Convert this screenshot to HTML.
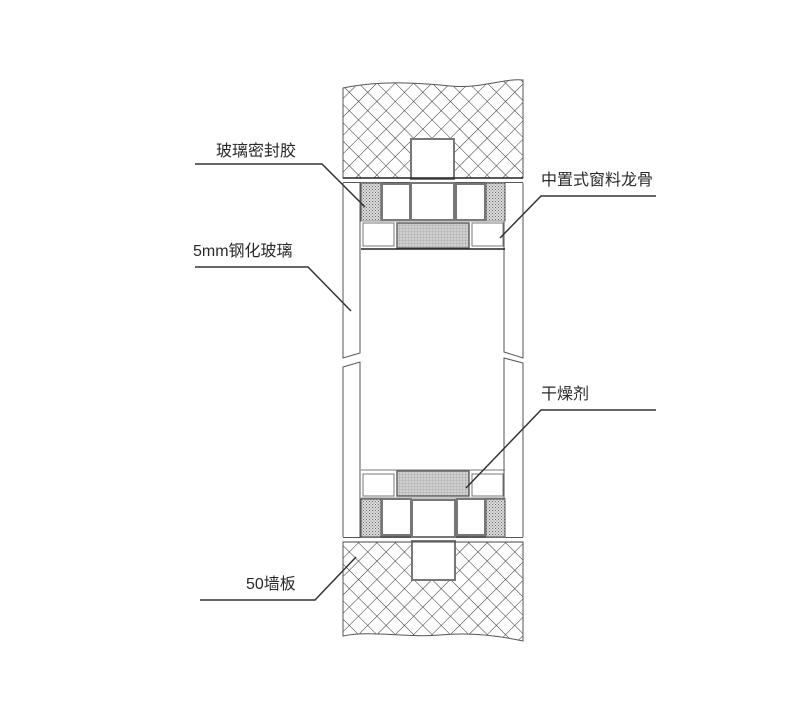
<!DOCTYPE html>
<html><head><meta charset="utf-8"><style>
html,body{margin:0;padding:0;background:#fff;}
svg{display:block}
text{font-family:"Liberation Sans","Noto Sans CJK SC",sans-serif;font-size:16px;fill:#2a2a2a;}
</style></head><body>
<svg width="806" height="713" viewBox="0 0 806 713" xmlns="http://www.w3.org/2000/svg">
<defs>
<pattern id="hatch" width="13" height="13" patternUnits="userSpaceOnUse" patternTransform="rotate(45)">
<rect width="13" height="13" fill="#fff"/>
<line x1="0" y1="0" x2="13" y2="0" stroke="#333" stroke-width="1"/>
<line x1="0" y1="0" x2="0" y2="13" stroke="#333" stroke-width="1"/>
</pattern>
<pattern id="dots" width="3" height="3" patternUnits="userSpaceOnUse">
<rect width="3" height="3" fill="#ddd"/>
<rect width="1" height="1" fill="#666"/>
<rect x="1.5" y="1.5" width="1" height="1" fill="#777"/>
</pattern>
<pattern id="grid" width="3" height="3" patternUnits="userSpaceOnUse">
<rect width="3" height="3" fill="#d0d0d0"/>
<line x1="0" y1="0" x2="3" y2="0" stroke="#999" stroke-width="0.6"/>
<line x1="0" y1="0" x2="0" y2="3" stroke="#999" stroke-width="0.6"/>
</pattern>
</defs>
<g stroke="#555" stroke-width="1" fill="none">
<path d="M343,88 C380,80 420,83 450,86 C480,89 505,78 523,80 L523,178 L343,178 Z" fill="url(#hatch)"/>
<rect x="411" y="139" width="43" height="40" fill="#fff" stroke="#777" stroke-width="2"/>
<path d="M343,542 L523,542 L523,641 C500,636 470,632 440,635 C405,638 370,630 343,636 Z" fill="url(#hatch)"/>
<rect x="412" y="541" width="43" height="39" fill="#fff" stroke="#777" stroke-width="2"/>
<line x1="343" y1="178" x2="523" y2="178" stroke="#222" stroke-width="1.5"/>
<line x1="343" y1="183" x2="523" y2="183" stroke="#222" stroke-width="1.5"/>
<line x1="343" y1="537" x2="523" y2="537" stroke="#222" stroke-width="1.5"/>
<line x1="343" y1="542" x2="523" y2="542" stroke="#444" stroke-width="1"/>
<path d="M343,183 L343,358 L360,353 L360,183" fill="#fff"/>
<path d="M343,537 L343,367 L360,362 L360,537" fill="#fff"/>
<path d="M523,183 L523,358 L504,352 L504,183" fill="#fff"/>
<path d="M523,537 L523,363 L504,358 L504,537" fill="#fff"/>
<rect x="361" y="183" width="20" height="38" fill="url(#dots)"/>
<rect x="486" y="183" width="19" height="38" fill="url(#dots)"/>
<rect x="382" y="184" width="28" height="36" fill="#fff" stroke="#777" stroke-width="2"/>
<rect x="456" y="184" width="29" height="36" fill="#fff" stroke="#777" stroke-width="2"/>
<rect x="411" y="183" width="43" height="37" fill="#fff" stroke="#777" stroke-width="2"/>
<line x1="361" y1="221" x2="505" y2="221" stroke="#888"/>
<rect x="363" y="223" width="31" height="23" fill="#fff" stroke="#777"/>
<rect x="397" y="223" width="72" height="25" fill="url(#grid)" stroke="#666" stroke-width="1.5"/>
<rect x="472" y="223" width="31" height="23" fill="#fff" stroke="#777"/>
<line x1="361" y1="249" x2="505" y2="249" stroke="#222" stroke-width="1.5"/>
<line x1="361" y1="470" x2="505" y2="470" stroke="#777"/>
<rect x="363" y="474" width="31" height="22" fill="#fff" stroke="#777"/>
<rect x="397" y="471" width="72" height="25" fill="url(#grid)" stroke="#666" stroke-width="1.5"/>
<rect x="472" y="474" width="31" height="22" fill="#fff" stroke="#777"/>
<line x1="361" y1="498" x2="505" y2="498" stroke="#888"/>
<rect x="361" y="499" width="20" height="38" fill="url(#dots)"/>
<rect x="486" y="499" width="19" height="38" fill="url(#dots)"/>
<rect x="382" y="499" width="29" height="36" fill="#fff" stroke="#777" stroke-width="2"/>
<rect x="457" y="499" width="28" height="36" fill="#fff" stroke="#777" stroke-width="2"/>
<rect x="412" y="500" width="43" height="37" fill="#fff" stroke="#777" stroke-width="2"/>
</g>
<g stroke="#333" stroke-width="1.5" fill="none">
<polyline points="195,164 322,164 365,207"/>
<polyline points="195,267 308,267 351,311"/>
<polyline points="656,196 541,196 500,238"/>
<polyline points="656,410 541,410 466,488"/>
<polyline points="200,600 315,600 356,557"/>
</g>
<text x="216" y="156">玻璃密封胶</text>
<text x="193" y="256">5mm钢化玻璃</text>
<text x="541" y="185">中置式窗料龙骨</text>
<text x="541" y="399">干燥剂</text>
<text x="246" y="589">50墙板</text>
</svg>
</body></html>
